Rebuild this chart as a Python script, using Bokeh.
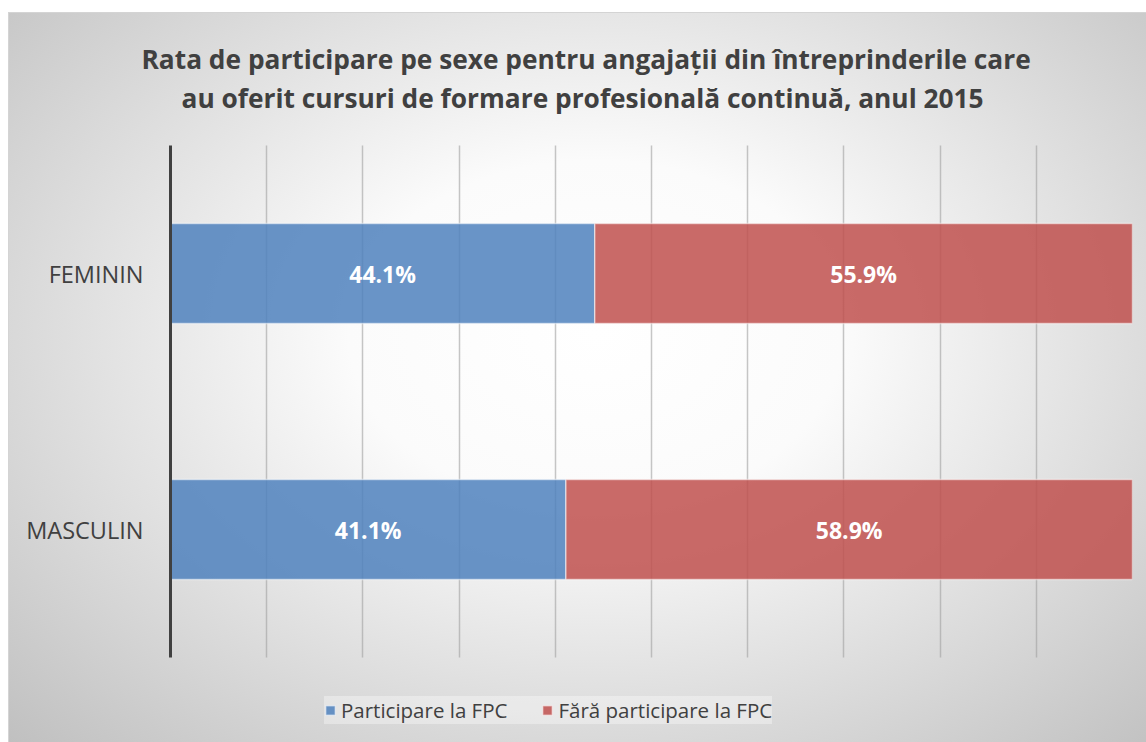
from bokeh.plotting import figure
from bokeh.models import (ColumnDataSource, Range1d, Legend, LegendItem,
                          Title, SingleIntervalTicker, FixedTicker, LabelSet)
from bokeh.core.properties import value
from bokeh.embed import file_html
from bokeh.resources import INLINE

categories = ["MASCULIN", "FEMININ"]
participare = [41.1, 44.1]
fara = [58.9, 55.9]
series_names = ["Participare la FPC", "Fără participare la FPC"]
colors = ["#4F81BD", "#C0504D"]

ypos = [i + 1 for i in range(len(categories))]
src = ColumnDataSource(dict(
    y=ypos,
    cat=categories,
    part=participare,
    fara=fara,
    part_mid=[v / 2 for v in participare],
    fara_mid=[p + f / 2 for p, f in zip(participare, fara)],
    part_lbl=[f"{v:.1f}%" for v in participare],
    fara_lbl=[f"{v:.1f}%" for v in fara],
))

n = len(categories)
p = figure(width=1146, height=742, output_backend="svg", toolbar_location=None,
           y_range=Range1d(0.5 - 85 / 256, n + 0.5 + 30 / 256),
           x_range=Range1d(0, 100),
           min_border_left=170, min_border_right=14, min_border_top=115,
           min_border_bottom=0)
p.styles = {"background": (
    "linear-gradient(#ffffff, #ffffff) left top / 100% 12px no-repeat, "
    "linear-gradient(#ffffff, #ffffff) left top / 8px 100% no-repeat, "
    "linear-gradient(#d4d4d4, #d4d4d4) 8px 12px / 100% 1px no-repeat, "
    "linear-gradient(#d4d4d4, #d4d4d4) 8px 12px / 1px 100% no-repeat, "
    "radial-gradient(ellipse 72% 78% at 52% 45%, #ffffff 0%, #fbfbfb 30%, #c0c0c0 100%)")}
p.background_fill_alpha = 0
p.border_fill_alpha = 0
p.outline_line_color = None

renderers = p.hbar_stack(["part", "fara"], y="y", height=0.39, color=colors,
                         fill_alpha=0.85, line_color="white", line_alpha=0.5,
                         line_width=1.5, source=src)

font = "Open Sans"
for col, xcol in (("part_lbl", "part_mid"), ("fara_lbl", "fara_mid")):
    p.add_layout(LabelSet(x=xcol, y="y", text=col, source=src, text_color="white",
                          text_font=value(font), text_font_style="bold",
                          text_font_size="23px", text_align="center",
                          text_baseline="middle"))

p.xaxis.ticker = SingleIntervalTicker(interval=10)
p.xaxis.visible = False
p.xgrid.grid_line_color = "#a0a0a0"
p.xgrid.grid_line_alpha = 0.6
p.xgrid.grid_line_width = 1.5
p.xgrid.cross_bounds = (0.5, n + 0.5)
p.ygrid.grid_line_color = None

yax = p.yaxis[0]
yax.ticker = FixedTicker(ticks=ypos)
yax.major_label_overrides = {y: c for y, c in zip(ypos, categories)}
yax.bounds = (0.5, n + 0.5)
yax.axis_line_color = "#404040"
yax.axis_line_width = 3
yax.major_tick_line_color = None
yax.minor_tick_line_color = None
yax.major_label_text_font = font
yax.major_label_text_font_size = "23.5px"
yax.major_label_text_color = "#404040"
yax.major_label_standoff = 21

t2 = Title(text="au oferit cursuri de formare profesională continuă, anul 2015",
           align="left", text_font=font, text_font_style="bold", text_font_size="26.3px",
           text_color="#404040", standoff=0, offset=11)
t1 = Title(text="Rata de participare pe sexe pentru angajații din întreprinderile care",
           align="left", text_font=font, text_font_style="bold", text_font_size="26.3px",
           text_color="#404040", standoff=2, offset=-29)
p.add_layout(t2, "above")
p.add_layout(t1, "above")

legend = Legend(items=[LegendItem(label=series_names[i], renderers=[renderers[i]])
                       for i in range(2)],
                orientation="horizontal", location=(154, 18),
                label_text_font=font, label_text_font_size="20.5px",
                label_text_color="#404040", glyph_width=12, glyph_height=12,
                label_standoff=5, spacing=34, padding=12, margin=0,
                background_fill_color="white", background_fill_alpha=0.35,
                border_line_color=None)
p.add_layout(legend, "center")

open("out.html", "w").write(file_html(p, INLINE))
